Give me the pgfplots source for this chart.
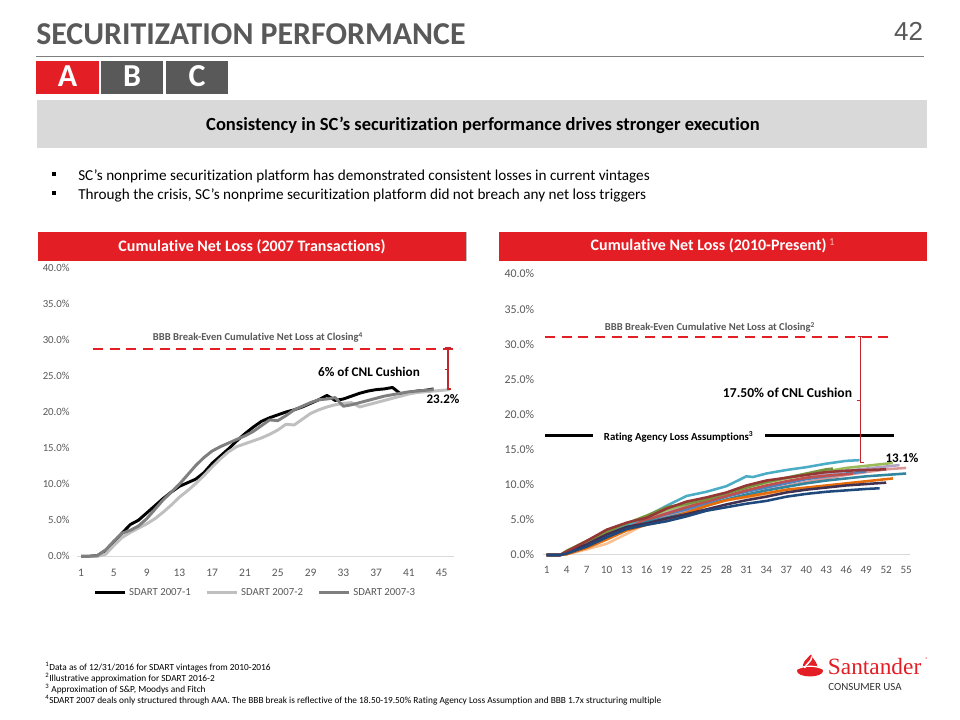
\documentclass[border=0pt]{standalone}
\usepackage{pgfplots}
\pgfplotsset{compat=1.18}
\usepackage{fontspec}
\setmainfont{Carlito}[Ligatures={NoCommon}]
\newfontfamily\logofont{Liberation Serif}
\newfontfamily\numfont{Liberation Sans}
\definecolor{sred}{HTML}{E31E24}
\definecolor{hred}{HTML}{C0282D}
\definecolor{dgray}{HTML}{595959}
\definecolor{lgray}{HTML}{D9D9D9}
\definecolor{sA}{HTML}{000000}
\definecolor{sB}{HTML}{BFBFBF}
\definecolor{sC}{HTML}{7F7F7F}
\definecolor{cNavy}{HTML}{1F497D}
\definecolor{cCyan}{HTML}{4BACC6}
\definecolor{cDRed}{HTML}{953735}
\definecolor{cOlive}{HTML}{9BBB59}
\definecolor{cDGreen}{HTML}{77933C}
\definecolor{cLav}{HTML}{B3A2C7}
\definecolor{cPink}{HTML}{D99694}
\definecolor{cOrange}{HTML}{E46C0A}
\definecolor{cPeach}{HTML}{FAC090}
\definecolor{cDTeal}{HTML}{31859C}
\definecolor{cDPurp}{HTML}{403152}
\definecolor{cBlue}{HTML}{4F81BD}
\definecolor{cRed}{HTML}{C0504D}
\newcommand\fs[1]{\fontsize{#1pt}{#1pt}\selectfont}
\pgfplotsset{cnl/.style={
  scale only axis, clip=false,
  axis lines*=left,
  y axis line style={draw=none},
  x axis line style={draw=lgray, line width=0.75pt, -},
  tick style={draw=none},
  ymin=0, ymax=40, ytick={0,5,...,40},
  /pgf/number format/assume math mode=true,
  yticklabel={\pgfmathprintnumber[fixed,fixed zerofill,precision=1]{\tick}\%},
  yticklabel style={font=\fs{8.1}, color=dgray, xshift=-2pt},
  xticklabel style={font=\fs{8.6}, color=dgray, text height=1.6ex, text depth=0.2ex, yshift=-4pt},
  every axis plot/.append style={line join=round, mark=none},
}}
\begin{document}
\begin{tikzpicture}
\useasboundingbox (0,0) rectangle (720pt,540pt);
\fill[white] (0,0) rectangle (720pt,540pt);
\begin{scope}[x=0.75pt,y=0.75pt]
% title
\node[anchor=base west, inner sep=0, font=\fs{23.9}\bfseries, text=dgray] at (36,675) {SECURITIZATION PERFORMANCE};
\node[anchor=base east, inner sep=0, font=\numfont\fs{19.5}, text=dgray] at (923.3,679.3) {42};
\draw[color=sC, line width=1pt] (36,663.3) -- (924,663.3);
\fill[sred] (36,659) rectangle (99,626);
\fill[dgray] (101,659) rectangle (163,626);
\fill[dgray] (166,659) rectangle (228,626);
\node[anchor=base, inner sep=0, font=\fs{24}\bfseries, text=white] at (67.5,633) {A};
\node[anchor=base, inner sep=0, font=\fs{24}\bfseries, text=white] at (132,633) {B};
\node[anchor=base, inner sep=0, font=\fs{24}\bfseries, text=white] at (197,633) {C};
\fill[lgray] (37,620) rectangle (927,572);
\node[anchor=base, inner sep=0, font=\fs{13.9}\bfseries, text=black] at (483,589) {Consistency in SC’s securitization performance drives stronger execution};
\fill[black] (52,548) rectangle (56,544);
\fill[black] (52,529) rectangle (56,525);
\node[anchor=base west, inner sep=0, font=\fs{11.4}, text=black] at (78,539) {SC’s nonprime securitization platform has demonstrated consistent losses in current vintages};
\node[anchor=base west, inner sep=0, font=\fs{11.4}, text=black] at (78,520) {Through the crisis, SC’s nonprime securitization platform did not breach any net loss triggers};
% headers
\fill[sred] (38,488) rectangle (466,459);
\draw[black!25, line width=0.8pt] (466.5,488) -- (466.5,458.5);
\fill[sred] (499,488) rectangle (927,459);
\node[anchor=base, inner sep=0, font=\fs{12}\bfseries, text=white] at (252,468.3) {Cumulative Net Loss (2007 Transactions)};
\node[anchor=base, inner sep=0, font=\fs{12}\bfseries, text=white] at (713,469) {Cumulative Net Loss (2010-Present)\,{\mdseries\textsuperscript{\color{red!30}1}}};
% footnotes
\begin{scope}[every node/.style={anchor=base west, inner sep=0, font=\fs{7.0}, text=black}]
\node at (45,49.5) {\textsuperscript{1}Data as of 12/31/2016 for SDART vintages from 2010-2016};
\node at (45,38.5) {\textsuperscript{2}Illustrative approximation for SDART 2016-2};
\node at (45,27.5) {\textsuperscript{3} Approximation of S\&P, Moodys and Fitch};
\node at (45,16) {\textsuperscript{4}SDART 2007 deals only structured through AAA. The BBB break is reflective of the 18.50-19.50\% Rating Agency Loss Assumption and BBB 1.7x structuring multiple};
\end{scope}
% logo
\fill[sred] (810,49) ellipse [x radius=9.75pt, y radius=4.1pt];
\fill[sred] (803.5,51) .. controls (801,58) and (807,61) .. (811,65.5) .. controls (813,60) and (819,57) .. (817,51) -- cycle;
\draw[white, line width=1.1pt] (804.5,52) .. controls (806,56.5) and (811.5,58) .. (812,63.5);
\draw[white, line width=0.9pt] (798,51.5) .. controls (805,54.5) and (815,54.5) .. (822,51.5);
\node[anchor=base west, inner sep=0, font=\logofont\fs{17.5}, text=sred] at (827.7,45) {Santander};
\node[anchor=base west, inner sep=0, font=\fs{4}, text=sred] at (925,58) {®};
\node[anchor=base west, inner sep=0, font=\fs{8.2}, text=black!80] at (828,29.3) {CONSUMER USA};
\end{scope}

% ---------------- left chart ----------------
\begin{axis}[cnl, at={(57.75pt,122.775pt)}, anchor=south west,
  width=282.75pt, height=216.45pt,
  xmin=0.5, xmax=46.5, xtick={1,5,...,45},
  legend columns=3,
  legend style={at={(0.474,-0.127)}, anchor=center, draw=none, fill=none,
    font=\fs{8.1}, text=dgray, inner sep=0pt,
    /tikz/every even column/.append style={column sep=9pt}},
  legend image code/.code={\draw[#1] (0pt,0pt) -- (22.5pt,0pt);},
]
\addplot[sA, line width=2.2pt] coordinates {
(1,0)(2,0)(3,0.1)(4,0.8)(5,2.0)(6,3.2)(7,4.4)(8,5.0)(9,6.0)(10,7.0)(11,8.0)(12,8.9)(13,9.7)(14,10.2)(15,10.7)(16,11.6)(17,12.9)(18,13.9)(19,14.9)(20,16.0)(21,17.0)(22,17.9)(23,18.7)(24,19.2)(25,19.6)(26,20.0)(27,20.3)(28,20.7)(29,21.2)(30,21.7)(31,22.3)(32,21.6)(33,21.8)(34,22.2)(35,22.6)(36,22.9)(37,23.1)(38,23.2)(39,23.4)(40,22.5)(41,22.7)(42,22.9)(43,23.0)(44,23.2)};
\addlegendentry{SDART 2007-1}
\addplot[sB, line width=2.2pt] coordinates {
(1,0)(2,0)(3,0)(4,0.3)(5,1.5)(6,2.6)(7,3.3)(8,3.9)(9,4.5)(10,5.2)(11,6.1)(12,7.1)(13,8.2)(14,9.1)(15,10.1)(16,11.2)(17,12.4)(18,13.5)(19,14.5)(20,15.2)(21,15.6)(22,16.0)(23,16.4)(24,16.9)(25,17.5)(26,18.3)(27,18.2)(28,19.0)(29,19.8)(30,20.3)(31,20.7)(32,21.0)(33,21.2)(34,21.3)(35,20.7)(36,21.0)(37,21.3)(38,21.6)(39,21.9)(40,22.2)(41,22.5)(42,22.7)(43,22.8)(44,22.9)(45,23.0)(46,23.1)};
\addlegendentry{SDART 2007-2}
\addplot[sC, line width=2.2pt] coordinates {
(1,0)(2,0)(3,0.1)(4,0.9)(5,2.1)(6,3.2)(7,3.6)(8,4.2)(9,5.2)(10,6.5)(11,7.8)(12,8.9)(13,10.0)(14,11.3)(15,12.6)(16,13.7)(17,14.6)(18,15.2)(19,15.7)(20,16.2)(21,16.7)(22,17.3)(23,18.1)(24,18.9)(25,18.8)(26,19.5)(27,20.3)(28,20.8)(29,21.3)(30,21.7)(31,21.8)(32,22.0)(33,20.8)(34,21.0)(35,21.3)(36,21.6)(37,21.9)(38,22.2)(39,22.4)(40,22.6)(41,22.8)(42,22.9)(43,23.0)(44,23.1)};
\addlegendentry{SDART 2007-3}
\addplot[sred, line width=1.5pt, dash pattern=on 7.5pt off 5pt, forget plot] coordinates {(2.46,28.8)(47.2,28.8)};
\end{axis}

% ---------------- right chart ----------------
\begin{axis}[cnl, at={(407.55pt,123.75pt)}, anchor=south west,
  width=274.575pt, height=210.75pt,
  xmin=0.5, xmax=55.5, xtick={1,4,...,55},
  xticklabel style={font=\fs{8.4}, yshift=1pt},
  yticklabel style={font=\fs{8.9}, xshift=-1.5pt},
  every axis plot/.append style={line width=1.9pt},
]
\addplot[cPeach] coordinates {(1,0)(2,0)(3,0)(4,0.1)(7,0.8)(10,1.6)(13,3.0)(16,4.5)(19,5.6)(22,6.6)(25,7.3)(28,7.8)(31,8.2)(34,8.6)(37,9.0)(40,9.4)(43,9.7)(46,10.0)(49,10.2)};
\addplot[cPink] coordinates {(1,0)(2,0)(3,0)(4,0.2)(7,1.2)(10,2.5)(13,3.7)(16,4.6)(19,5.5)(22,6.4)(25,7.1)(28,7.8)(31,8.5)(34,9.2)(37,9.8)(40,10.4)(43,10.9)(46,11.4)(49,11.8)(52,12.2)(55,12.4)};
\addplot[cLav] coordinates {(1,0)(2,0)(3,0)(4,0.3)(7,1.5)(10,2.8)(13,4.0)(16,5.0)(19,6.0)(22,7.0)(25,7.8)(28,8.5)(31,9.2)(34,9.8)(37,10.4)(40,11.0)(43,11.5)(46,12.0)(49,12.3)(52,12.6)(54,12.8)};
\addplot[cOlive] coordinates {(1,0)(2,0)(3,0)(4,0.4)(7,1.8)(10,3.0)(13,4.2)(16,5.3)(19,6.4)(22,7.2)(25,8.0)(28,8.8)(31,9.6)(34,10.3)(37,10.9)(40,11.4)(43,11.9)(46,12.4)(49,12.7)(52,13.0)(53,13.1)};
\addplot[cBlue] coordinates {(1,0)(2,0)(3,0)(4,0.2)(7,1.4)(10,2.7)(13,4.0)(16,5.0)(19,5.8)(22,6.5)(25,7.4)(28,8.3)(31,9.0)(34,9.6)(37,10.2)(40,10.8)(43,11.2)(46,11.6)(49,11.9)};
\addplot[cRed] coordinates {(1,0)(2,0)(3,0)(4,0.3)(7,1.6)(10,3.0)(13,4.2)(16,5.0)(19,5.9)(22,6.8)(25,7.6)(28,8.4)(31,9.2)(34,9.9)(37,10.5)(40,11.0)(43,11.3)(46,11.5)(47,11.6)};
\addplot[cCyan] coordinates {(1,0)(2,0)(3,0)(4,0.3)(7,1.5)(10,2.8)(13,4.2)(16,5.5)(19,7.0)(22,8.4)(25,9.0)(28,9.8)(31,11.2)(32,11.1)(34,11.6)(37,12.1)(40,12.5)(43,13.0)(46,13.4)(48,13.5)};
\addplot[cDGreen] coordinates {(1,0)(2,0)(3,0)(4,0.6)(7,2.0)(10,3.3)(13,4.5)(16,5.6)(19,6.8)(22,7.3)(25,7.9)(28,8.8)(31,9.6)(34,10.4)(37,11.0)(40,11.6)(43,12.2)(44,12.3)};
\addplot[cDTeal] coordinates {(1,0)(2,0)(3,0)(4,0.2)(7,1.3)(10,2.4)(13,3.6)(16,4.7)(19,5.3)(22,6.0)(25,7.0)(28,7.9)(31,8.6)(34,9.2)(37,9.7)(40,10.2)(43,10.6)(46,10.9)(49,11.2)(52,11.4)(55,11.6)};
\addplot[cOrange] coordinates {(1,0)(2,0)(3,0)(4,0.1)(7,1.0)(10,2.2)(13,3.5)(16,4.3)(19,5.0)(22,6.0)(25,7.0)(28,7.8)(31,8.3)(34,8.8)(37,9.3)(40,9.6)(43,9.9)(46,10.2)(49,10.5)(52,10.8)(53,10.9)};
\addplot[cDPurp] coordinates {(1,0)(2,0)(3,0)(4,0.4)(7,1.5)(10,2.9)(13,4.0)(16,4.5)(19,5.2)(22,5.8)(25,6.5)(28,7.2)(31,7.8)(34,8.3)(37,8.9)(40,9.3)(43,9.6)(46,9.9)(49,10.1)(52,10.3)};
\addplot[cDRed] coordinates {(1,0)(2,0)(3,0)(4,0.5)(7,2.0)(10,3.6)(13,4.6)(16,5.3)(19,6.6)(22,7.6)(25,8.2)(28,8.9)(31,9.9)(34,10.6)(37,11.0)(40,11.4)(43,11.8)(46,12.0)(49,12.1)(52,12.2)};
\addplot[cNavy] coordinates {(1,0)(2,0)(3,0)(4,0.2)(7,1.2)(10,2.5)(13,3.7)(16,4.3)(19,4.8)(22,5.5)(25,6.3)(28,6.8)(31,7.3)(34,7.7)(37,8.3)(40,8.7)(43,9.0)(46,9.2)(49,9.4)(51,9.5)};
\addplot[sred, line width=1.5pt, dash pattern=on 7.5pt off 5pt] coordinates {(0.75,31.05)(52.5,31.05)};
\addplot[black, line width=2.2pt] coordinates {(0.75,17)(7.9,17)};
\addplot[black, line width=2.2pt] coordinates {(33.8,17)(53.1,17)};
\end{axis}

% annotations
\begin{scope}[x=0.75pt,y=0.75pt]
\node[anchor=base, inner sep=0, font=\fs{7.95}\bfseries, text=dgray] at (258,379) {BBB Break-Even Cumulative Net Loss at Closing\textsuperscript{4}};
\node[anchor=base, inner sep=0, font=\fs{9.9}\bfseries, text=black] at (369,343.3) {6\% of CNL Cushion};
\node[anchor=base, inner sep=0, font=\fs{9.8}\bfseries, text=black] at (443,316) {23.2\%};
\draw[hred, line width=1pt] (448,372) -- (448,331);
\draw[hred, line width=1pt] (445,372) -- (451,372);
\draw[hred, line width=1pt] (446.5,331) -- (450.5,331);
\draw[hred, line width=1pt] (444.5,350.7) -- (448,350.7);
\node[anchor=base, inner sep=0, font=\fs{7.95}\bfseries, text=dgray] at (710,389) {BBB Break-Even Cumulative Net Loss at Closing\textsuperscript{2}};
\node[anchor=base, inner sep=0, font=\fs{8.1}\bfseries, text=black] at (678.7,279.3) {Rating Agency Loss Assumptions\textsuperscript{3}};
\node[anchor=base, inner sep=0, font=\fs{10.2}\bfseries, text=black] at (787.5,322.7) {17.50\% of CNL Cushion};
\node[anchor=base, inner sep=0, font=\fs{9.8}\bfseries, text=black] at (902,257.7) {13.1\%};
\draw[hred, line width=1pt] (860.7,383.3) -- (860.7,257.3);
\draw[hred, line width=1pt] (857.5,383.3) -- (864,383.3);
\draw[hred, line width=1pt] (860.7,257.3) -- (864,257.3);
\draw[hred, line width=1pt] (856.7,319.3) -- (860.7,319.3);
\end{scope}
\end{tikzpicture}
\end{document}
